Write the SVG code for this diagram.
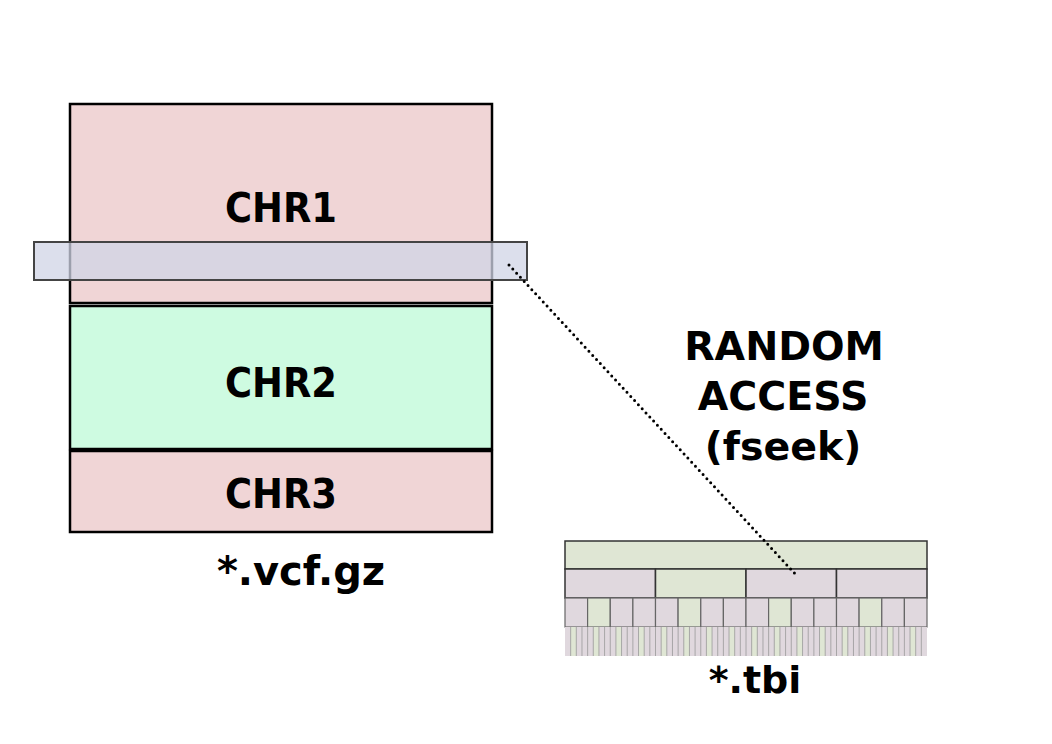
<svg xmlns="http://www.w3.org/2000/svg" width="1052" height="744" viewBox="0 0 1052 744">
<defs>
<style>
.chr{stroke:#000;stroke-width:2.5}
.pink{fill:#f0d5d6}
.green{fill:#cefbe1}
.lbl{font-family:"DejaVu Sans Condensed","DejaVu Sans",sans-serif;font-weight:bold;font-size:41px;text-anchor:middle;fill:#000}
.big{font-family:"DejaVu Sans",sans-serif;font-weight:bold;font-size:39.5px;text-anchor:middle;fill:#000}
.tg{fill:#dfe6d4}
.tp{fill:#e0d8de}
.s1{stroke:#333;stroke-width:1.5}
.s2{stroke:#666;stroke-width:1.2}
.s3{stroke:#999;stroke-width:0.8}
</style>
</defs>
<rect width="1052" height="744" fill="#fff"/>
<g id="chr1"><rect class="chr pink" x="70" y="104" width="422" height="199"/><text class="lbl" x="281" y="222">CHR1</text></g>
<g id="chr2"><rect class="chr green" x="70" y="306" width="422" height="143"/><text class="lbl" x="281" y="397">CHR2</text></g>
<g id="chr3"><rect class="chr pink" x="70" y="451" width="422" height="81"/><text class="lbl" x="281" y="508">CHR3</text></g>
<g id="window"><rect x="34" y="242" width="493" height="38" fill="#d0d4e6" fill-opacity="0.75" stroke="#444" stroke-width="2"/></g>
<g id="vcf-label"><text class="big" x="301" y="585" style="font-size:40px">*.vcf.gz</text></g>
<g id="random-access"><text class="big" x="784" y="360">RANDOM</text><text class="big" x="783" y="410">ACCESS</text><text class="big" x="783" y="460">(fseek)</text></g>
<g id="tbi">
<rect class="tg s1" x="565" y="541" width="362" height="28"/>
<rect class="tp s1" x="565" y="569" width="90.5" height="29"/>
<rect class="tg s1" x="655.5" y="569" width="90.5" height="29"/>
<rect class="tp s1" x="746" y="569" width="90.5" height="29"/>
<rect class="tp s1" x="836.5" y="569" width="90.5" height="29"/>
<g class="s2">
<rect class="tp" x="565" y="598" width="22.6" height="29"/><rect class="tg" x="587.6" y="598" width="22.6" height="29"/><rect class="tp" x="610.3" y="598" width="22.6" height="29"/><rect class="tp" x="632.9" y="598" width="22.6" height="29"/>
<rect class="tp" x="655.5" y="598" width="22.6" height="29"/><rect class="tg" x="678.1" y="598" width="22.6" height="29"/><rect class="tp" x="700.8" y="598" width="22.6" height="29"/><rect class="tp" x="723.4" y="598" width="22.6" height="29"/>
<rect class="tp" x="746" y="598" width="22.6" height="29"/><rect class="tg" x="768.6" y="598" width="22.6" height="29"/><rect class="tp" x="791.3" y="598" width="22.6" height="29"/><rect class="tp" x="813.9" y="598" width="22.6" height="29"/>
<rect class="tp" x="836.5" y="598" width="22.6" height="29"/><rect class="tg" x="859.1" y="598" width="22.6" height="29"/><rect class="tp" x="881.8" y="598" width="22.6" height="29"/><rect class="tp" x="904.4" y="598" width="22.6" height="29"/>
</g>
<rect class="tp" x="565" y="627" width="362" height="29"/>
<g class="tg">
<rect x="570.7" y="627" width="5.66" height="29"/><rect x="593.3" y="627" width="5.66" height="29"/><rect x="615.9" y="627" width="5.66" height="29"/><rect x="638.6" y="627" width="5.66" height="29"/>
<rect x="661.2" y="627" width="5.66" height="29"/><rect x="683.8" y="627" width="5.66" height="29"/><rect x="706.4" y="627" width="5.66" height="29"/><rect x="729.1" y="627" width="5.66" height="29"/>
<rect x="751.7" y="627" width="5.66" height="29"/><rect x="774.3" y="627" width="5.66" height="29"/><rect x="796.9" y="627" width="5.66" height="29"/><rect x="819.6" y="627" width="5.66" height="29"/>
<rect x="842.2" y="627" width="5.66" height="29"/><rect x="864.8" y="627" width="5.66" height="29"/><rect x="887.4" y="627" width="5.66" height="29"/><rect x="910.1" y="627" width="5.66" height="29"/>
</g>
<path class="s3" fill="none" d="M570.66 627v29M576.31 627v29M581.97 627v29M587.63 627v29M593.28 627v29M598.94 627v29M604.59 627v29M610.25 627v29M615.91 627v29M621.56 627v29M627.22 627v29M632.88 627v29M638.53 627v29M644.19 627v29M649.84 627v29M655.5 627v29M661.16 627v29M666.81 627v29M672.47 627v29M678.13 627v29M683.78 627v29M689.44 627v29M695.09 627v29M700.75 627v29M706.41 627v29M712.06 627v29M717.72 627v29M723.38 627v29M729.03 627v29M734.69 627v29M740.34 627v29M746 627v29M751.66 627v29M757.31 627v29M762.97 627v29M768.63 627v29M774.28 627v29M779.94 627v29M785.59 627v29M791.25 627v29M796.91 627v29M802.56 627v29M808.22 627v29M813.88 627v29M819.53 627v29M825.19 627v29M830.84 627v29M836.5 627v29M842.16 627v29M847.81 627v29M853.47 627v29M859.13 627v29M864.78 627v29M870.44 627v29M876.09 627v29M881.75 627v29M887.41 627v29M893.06 627v29M898.72 627v29M904.38 627v29M910.03 627v29M915.69 627v29M921.34 627v29"/>
</g>
<g id="tbi-label"><text class="big" x="755" y="693" style="font-size:38px">*.tbi</text></g>
<g id="connectors"><line x1="509" y1="265" x2="798" y2="577" stroke="#000" stroke-width="3" stroke-dasharray="0 5.6" stroke-linecap="round"/></g>
</svg>
